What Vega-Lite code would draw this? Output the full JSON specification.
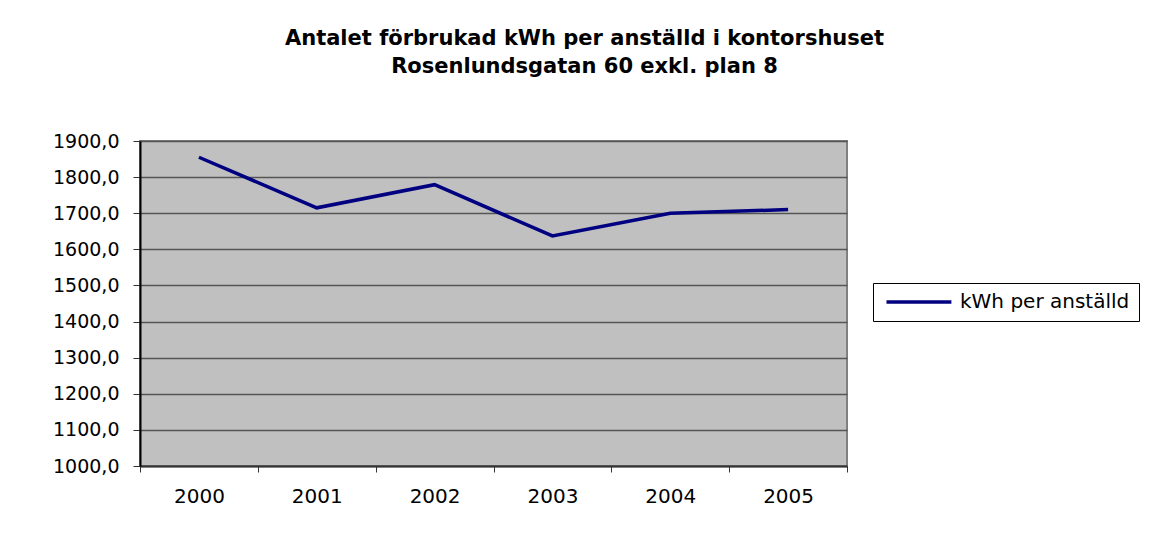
{
  "$schema": "https://vega.github.io/schema/vega-lite/v6.json",
  "width": 707,
  "height": 325,
  "autosize": {"type": "none"},
  "padding": {"left": 140, "top": 141, "right": 311, "bottom": 67},
  "background": "white",
  "title": {
    "text": ["Antalet förbrukad kWh per anställd i kontorshuset", "Rosenlundsgatan 60 exkl. plan 8"],
    "font": "DejaVu Sans",
    "fontSize": 21,
    "fontWeight": "bold",
    "color": "black",
    "anchor": "middle",
    "dx": 91,
    "offset": 55,
    "lineHeight": 28
  },
  "data": {
    "values": [
      {"year": "2000", "kwh": 1855, "serie": "kWh per anställd"},
      {"year": "2001", "kwh": 1715, "serie": "kWh per anställd"},
      {"year": "2002", "kwh": 1779, "serie": "kWh per anställd"},
      {"year": "2003", "kwh": 1637, "serie": "kWh per anställd"},
      {"year": "2004", "kwh": 1700, "serie": "kWh per anställd"},
      {"year": "2005", "kwh": 1710, "serie": "kWh per anställd"}
    ]
  },
  "mark": {"type": "line", "strokeWidth": 3.5},
  "encoding": {
    "x": {
      "field": "year",
      "type": "ordinal",
      "scale": {"type": "band", "paddingInner": 0, "paddingOuter": 0},
      "axis": {
        "title": null,
        "labelAngle": 0,
        "tickBand": "extent",
        "tickSize": 6,
        "tickColor": "#333333",
        "domainColor": "#333333",
        "domainWidth": 2,
        "labelFont": "DejaVu Sans",
        "labelFontSize": 20,
        "labelColor": "black",
        "labelPadding": 14,
        "grid": false
      }
    },
    "y": {
      "field": "kwh",
      "type": "quantitative",
      "scale": {"domain": [1000, 1900], "nice": false, "zero": false},
      "axis": {
        "title": null,
        "values": [1000, 1100, 1200, 1300, 1400, 1500, 1600, 1700, 1800, 1900],
        "labelExpr": "replace(format(datum.value, '.1f'), '.', ',')",
        "tickSize": 7,
        "tickColor": "#333333",
        "domainColor": "black",
        "domainWidth": 2,
        "labelFont": "DejaVu Sans",
        "labelFontSize": 19,
        "labelColor": "black",
        "labelPadding": 14,
        "grid": true,
        "gridColor": "#555555",
        "gridWidth": 1.5
      }
    },
    "color": {
      "field": "serie",
      "type": "nominal",
      "scale": {"domain": ["kWh per anställd"], "range": ["#000080"]},
      "legend": {
        "title": null,
        "orient": "none",
        "legendX": 733,
        "legendY": 142,
        "strokeColor": "black",
        "fillColor": "white",
        "padding": 9,
        "symbolType": "M-1,0H10.8",
        "symbolSize": 121,
        "symbolStrokeWidth": 3.5,
        "labelFont": "DejaVu Sans",
        "labelFontSize": 20,
        "labelColor": "black",
        "labelLimit": 400,
        "labelOffset": 58
      }
    }
  },
  "config": {
    "view": {"fill": "#C0C0C0", "stroke": "#808080", "strokeWidth": 2}
  }
}
